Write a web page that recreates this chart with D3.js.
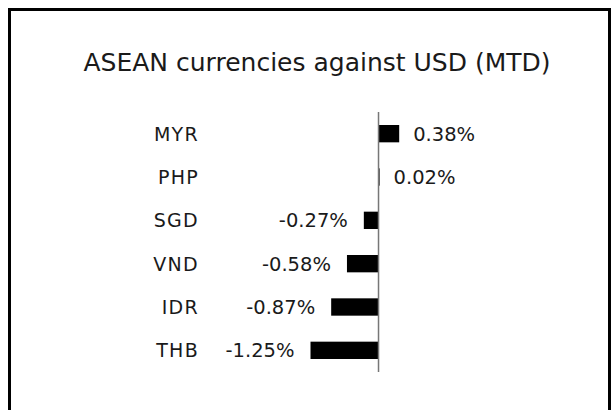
<!DOCTYPE html>
<html>
<head>
<meta charset="utf-8">
<script src="https://cdn.jsdelivr.net/npm/d3@7"></script>
<style>
  body { margin: 0; background: #fff; }
  svg { display: block; }
</style>
</head>
<body>
<div id="chart"></div>
<script>
// values (month-to-date % change vs USD)
const currencies = ["MYR", "PHP", "SGD", "VND", "IDR", "THB"];
const changes = [0.38, 0.02, -0.27, -0.58, -0.87, -1.25];
const valueLabels = ["0.38%", "0.02%", "-0.27%", "-0.58%", "-0.87%", "-1.25%"];

const W = 615, H = 410;
const font = "'DejaVu Sans', sans-serif";

const svg = d3.select("#chart")
    .append("svg")
    .attr("width", W)
    .attr("height", H);

// outer frame, bottom edge runs off the picture
svg.append("rect")
    .attr("x", 9.5)
    .attr("y", 9.5)
    .attr("width", 600)
    .attr("height", 420)
    .attr("fill", "#fff")
    .attr("stroke", "#000")
    .attr("stroke-width", 3);

svg.append("text")
    .attr("x", 317)
    .attr("y", 71)
    .attr("text-anchor", "middle")
    .attr("font-family", font)
    .attr("font-size", 25)
    .attr("fill", "#1a1a1a")
    .text("ASEAN currencies against USD (MTD)");

const x = d3.scaleLinear()
    .domain([-1.25, 0.38])
    .range([310.5, 399.2]);

const y = d3.scaleBand()
    .domain(currencies)
    .range([112, 372])
    .paddingInner(0.6)
    .paddingOuter(0.3);

const rows = currencies.map((c, i) => ({ c, v: changes[i], label: valueLabels[i] }));

svg.append("g")
    .attr("fill", "#000")
    .selectAll("rect")
    .data(rows)
    .join("rect")
    .attr("x", d => x(Math.min(0, d.v)))
    .attr("y", d => y(d.c))
    .attr("width", d => Math.max(1, Math.abs(x(d.v) - x(0))))
    .attr("height", y.bandwidth());

// zero line
svg.append("line")
    .attr("x1", x(0))
    .attr("x2", x(0))
    .attr("y1", 112)
    .attr("y2", 372)
    .attr("stroke", "#777")
    .attr("stroke-width", 1.5);

// category labels
svg.append("g")
    .selectAll("text")
    .data(rows)
    .join("text")
    .attr("x", 199)
    .attr("y", d => y(d.c) + y.bandwidth() / 2)
    .attr("dy", "0.36em")
    .attr("text-anchor", "end")
    .attr("font-family", font)
    .attr("font-size", 19)
    .attr("letter-spacing", 1.3)
    .attr("fill", "#1a1a1a")
    .text(d => d.c);

// value labels
svg.append("g")
    .selectAll("text")
    .data(rows)
    .join("text")
    .attr("x", d => d.v >= 0 ? x(d.v) + 14 : x(d.v) - 16)
    .attr("y", d => y(d.c) + y.bandwidth() / 2)
    .attr("dy", "0.36em")
    .attr("text-anchor", d => d.v >= 0 ? "start" : "end")
    .attr("font-family", font)
    .attr("font-size", 19.5)
    .attr("fill", "#1a1a1a")
    .text(d => d.label);
</script>
</body>
</html>
